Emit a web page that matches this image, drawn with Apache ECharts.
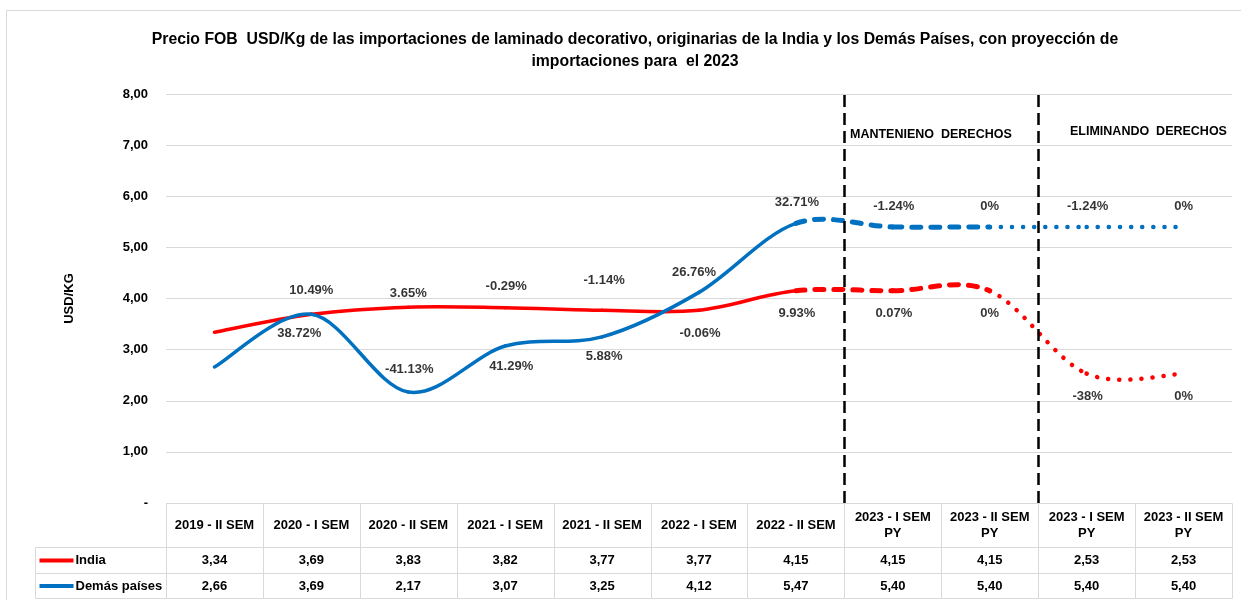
<!DOCTYPE html>
<html>
<head>
<meta charset="utf-8">
<script src="https://cdn.jsdelivr.net/npm/echarts@6/dist/echarts.min.js"></script>
<style>
html, body { margin: 0; padding: 0; background: #fff; }
#main { width: 1241px; height: 600px; }
</style>
</head>
<body>
<div id="main"></div>
<script>
// datos
var categories = ['2019 - II SEM', '2020 - I SEM', '2020 - II SEM', '2021 - I SEM', '2021 - II SEM',
  '2022 - I SEM', '2022 - II SEM', '2023 - I SEM\nPY', '2023 - II SEM\nPY', '2023 - I SEM\nPY', '2023 - II SEM\nPY'];
var india = [3.34, 3.69, 3.83, 3.82, 3.77, 3.77, 4.15, 4.15, 4.15, 2.53, 2.53];
var demas = [2.66, 3.69, 2.17, 3.07, 3.25, 4.12, 5.47, 5.40, 5.40, 5.40, 5.40];
var indiaPct = ['', '10.49%', '3.65%', '-0.29%', '-1.14%', '-0.06%', '9.93%', '0.07%', '0%', '-38%', '0%'];
var demasPct = ['', '38.72%', '-41.13%', '41.29%', '5.88%', '26.76%', '32.71%', '-1.24%', '0%', '-1.24%', '0%'];

// posicion de etiquetas (px respecto al punto)
var indiaOff = [[0,0],[0,-24],[0,-14],[1,-21],[2,-30],[1,23],[1,23],[1,23],[0,23],[1,23],[0,23]];
var demasOff = [[0,0],[-12,19],[1,-23],[6,20],[2,20],[-5,-20],[1,-21],[1,-21],[0,-21],[1,-21],[0,-21]];

var FONT = "'Liberation Sans Narrow', 'Arial Narrow', Arial, sans-serif";
var RED = '#FF0000', BLUE = '#0070C0', GRID = '#D9D9D9';
var L = 166, R = 1232, T = 94, B = 503;

// estilo de cada tramo: real, manteniendo derechos, eliminando derechos
function segStyle(i) {
  if (i < 6) return { width: 3.5, dash: null };
  if (i < 8) return { width: 5, dash: [9, 10] };
  return { width: 4.5, dash: [0.1, 11] };
}

function fmt(v) { return v.toFixed(2).replace('.', ','); }

// curva suavizada tipo Excel, un tramo por elemento
function curveSeries(arr, color) {
  return {
    type: 'custom', xAxisIndex: 0, yAxisIndex: 0, silent: true,
    data: arr.slice(0, -1).map(function (v, i) { return [i, v]; }),
    renderItem: function (params, api) {
      var i = api.value(0);
      var p = function (j) {
        j = Math.max(0, Math.min(arr.length - 1, j));
        return api.coord([j, arr[j]]);
      };
      var p0 = p(i - 1), p1 = p(i), p2 = p(i + 1), p3 = p(i + 2);
      var st = segStyle(i);
      return {
        type: 'bezierCurve',
        shape: {
          x1: p1[0], y1: p1[1], x2: p2[0], y2: p2[1],
          cpx1: p1[0] + (p2[0] - p0[0]) / 6, cpy1: p1[1] + (p2[1] - p0[1]) / 6,
          cpx2: p2[0] - (p3[0] - p1[0]) / 6, cpy2: p2[1] - (p3[1] - p1[1]) / 6
        },
        style: { stroke: color, fill: null, lineWidth: st.width, lineDash: st.dash, lineCap: 'round' }
      };
    }
  };
}

function pctSeries(arr, pct, off) {
  return {
    type: 'scatter', xAxisIndex: 0, yAxisIndex: 0, symbolSize: 0, silent: true,
    data: arr.map(function (v, i) {
      return { value: [i, v], label: { show: pct[i] !== '', formatter: pct[i], offset: off[i] } };
    }),
    label: { position: 'inside', fontFamily: FONT, fontWeight: 'bold', fontSize: 13, color: '#000' }
  };
}

// tabla de datos
var rowEdges = [0, 44, 70, 95];
var rowsData = [null, india, demas];
var rowNames = [null, 'India', 'Demás países'];
var rowColors = [null, RED, BLUE];
var cells = [];
categories.forEach(function (c, i) { cells.push([i, 0, 0], [i, 1, 0], [i, 2, 0]); });
cells.push([0, 1, 1], [0, 2, 1]);

var tableSeries = {
  type: 'custom', xAxisIndex: 1, yAxisIndex: 1, silent: true, data: cells,
  renderItem: function (params, api) {
    var col = api.value(0), row = api.value(1), key = api.value(2);
    var bw = api.size([1, 0])[0];
    var y0 = Math.round(api.coord([0, rowEdges[row]])[1]) + 0.5;
    var y1 = Math.round(api.coord([0, rowEdges[row + 1]])[1]) + 0.5;
    var cx = api.coord([col, 0])[0];
    var x0, x1, children = [];
    if (key === 1) {
      x1 = Math.round(cx - bw / 2) + 0.5; x0 = 35.5;
      var ym = (y0 + y1) / 2;
      children.push({ type: 'line', shape: { x1: x0 + 4, y1: ym, x2: x0 + 38, y2: ym },
        style: { stroke: rowColors[row], lineWidth: 4 } });
      children.push({ type: 'text', x: x0 + 40, y: ym,
        style: { text: rowNames[row], fontFamily: FONT, fontWeight: 'bold', fontSize: 13,
          fill: '#000', align: 'left', verticalAlign: 'middle' } });
    } else {
      x0 = Math.round(cx - bw / 2) + 0.5; x1 = Math.round(cx + bw / 2) + 0.5;
      var txt = row === 0 ? categories[col] : fmt(rowsData[row][col]);
      children.push({ type: 'text', x: cx, y: (y0 + y1) / 2,
        style: { text: txt, fontFamily: FONT, fontWeight: 'bold', fontSize: 13, lineHeight: 16,
          fill: '#000', align: 'center', verticalAlign: 'middle' } });
    }
    children.unshift({ type: 'rect', shape: { x: x0, y: y0, width: x1 - x0, height: y1 - y0 },
      style: { fill: 'none', stroke: GRID, lineWidth: 1 } });
    return { type: 'group', children: children };
  }
};

var chart = echarts.init(document.getElementById('main'));
chart.setOption({
  animation: false,
  title: {
    text: 'Precio FOB  USD/Kg de las importaciones de laminado decorativo, originarias de la India y los Demás Países, con proyección de\nimportaciones para  el 2023',
    left: 630, top: 24, textAlign: 'center',
    textStyle: { fontFamily: FONT, fontWeight: 'bold', fontSize: 15.8, lineHeight: 22, color: '#000' }
  },
  graphic: [
    { type: 'rect', shape: { x: 6.5, y: 10.5, width: 1300, height: 700 },
      style: { fill: 'none', stroke: GRID, lineWidth: 1 }, silent: true },
    { type: 'text', x: 850, y: 135, style: { text: 'MANTENIENO  DERECHOS', fontFamily: FONT, fontWeight: 'bold',
      fontSize: 12.5, fill: '#000', verticalAlign: 'middle' } },
    { type: 'text', x: 1070, y: 132, style: { text: 'ELIMINANDO  DERECHOS', fontFamily: FONT, fontWeight: 'bold',
      fontSize: 12.5, fill: '#000', verticalAlign: 'middle' } }
  ],
  grid: [
    { left: L, top: T, width: R - L, height: B - T },
    { left: L, top: B, width: R - L, height: 95 }
  ],
  xAxis: [
    { type: 'value', gridIndex: 0, min: -0.5, max: 10.5, show: false },
    { type: 'category', gridIndex: 1, data: categories, show: false }
  ],
  yAxis: [
    {
      type: 'value', gridIndex: 0, min: 0, max: 8, interval: 1,
      name: 'USD/KG', nameLocation: 'middle', nameGap: 90, nameRotate: 90,
      nameTextStyle: { fontFamily: FONT, fontWeight: 'bold', fontSize: 13, color: '#000' },
      axisLine: { show: false }, axisTick: { show: false },
      axisLabel: { margin: 18, fontFamily: FONT, fontWeight: 'bold', fontSize: 13, color: '#000',
        formatter: function (v) { return v === 0 ? '-' : fmt(v); } },
      splitLine: { lineStyle: { color: GRID, width: 1 } }
    },
    { type: 'value', gridIndex: 1, min: 0, max: 95, inverse: true, show: false }
  ],
  series: [
    curveSeries(india, RED),
    curveSeries(demas, BLUE),
    {
      type: 'line', xAxisIndex: 0, yAxisIndex: 0, data: [],
      markLine: {
        silent: true, symbol: 'none', label: { show: false },
        lineStyle: { color: '#000', width: 2.5, type: [12, 6] },
        data: [{ xAxis: 6.5 }, { xAxis: 8.5 }]
      }
    },
    pctSeries(india, indiaPct, indiaOff),
    pctSeries(demas, demasPct, demasOff),
    tableSeries
  ]
});
</script>
</body>
</html>
